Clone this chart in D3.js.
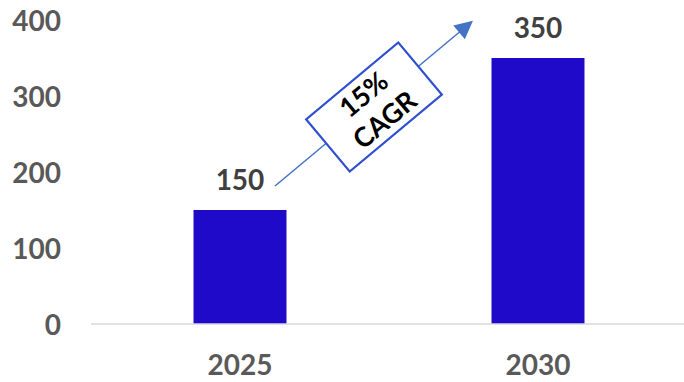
<!DOCTYPE html>
<meta charset="utf-8">
<style>
body { margin: 0; background: #fff; }
.axis text { font-family: Lato, sans-serif; font-weight: bold; font-size: 28px; fill: #595959; }
.label { font-family: Lato, sans-serif; font-weight: bold; font-size: 28px; fill: #404040; }
.cagr { font-family: Lato, sans-serif; font-weight: bold; font-size: 27px; fill: #000; }
</style>
<body>
<script src="https://d3js.org/d3.v7.min.js"></script>
<script>

var years = ["2025", "2030"]
var values = [150, 350]
var yTicks = [0, 100, 200, 300, 400]
var cagrLines = ["15%", "CAGR"]

var width = 684
var height = 382

var svg = d3.select("body").append("svg")
    .attr("width", width)
    .attr("height", height)

var x = d3.scaleBand()
    .domain(years)
    .range([91, 687])
    .paddingInner(0.688)
    .paddingOuter(0.344)

var y = d3.scaleLinear()
    .domain([0, 400])
    .range([324, 20])

// y axis labels only
var yAxis = d3.axisLeft(y).tickValues(yTicks).tickSize(0).tickPadding(0)
svg.append("g")
    .attr("class", "axis")
    .attr("transform", "translate(61,0)")
    .call(yAxis)
    .call(function(g) { g.select(".domain").remove() })
    .selectAll("text").attr("dy", "0.36em")

// bars
svg.selectAll(".bar")
    .data(values)
  .enter().append("rect")
    .attr("class", "bar")
    .attr("x", function(d, i) { return x(years[i]) })
    .attr("width", x.bandwidth())
    .attr("y", function(d) { return y(d) })
    .attr("height", function(d) { return y(0) - y(d) })
    .attr("fill", "#200ACA")

// baseline
svg.append("line")
    .attr("x1", 91).attr("x2", width)
    .attr("y1", y(0)).attr("y2", y(0))
    .attr("stroke", "#d9d9d9")
    .attr("stroke-width", 1.5)

// x axis labels
var xAxis = d3.axisBottom(x).tickSize(0).tickPadding(0)
svg.append("g")
    .attr("class", "axis")
    .attr("transform", "translate(0," + (y(0) + 41) + ")")
    .call(xAxis)
    .call(function(g) { g.select(".domain").remove() })
    .selectAll("text").attr("dy", "0.36em")

// value labels
svg.selectAll(".label")
    .data(values)
  .enter().append("text")
    .attr("class", "label")
    .attr("x", function(d, i) { return x(years[i]) + x.bandwidth() / 2 })
    .attr("y", function(d) { return y(d) - 30 })
    .attr("dy", "0.36em")
    .attr("text-anchor", "middle")
    .text(function(d) { return d })

// growth arrow
svg.append("defs").append("marker")
    .attr("id", "head")
    .attr("viewBox", "0 0 10 10")
    .attr("refX", 9).attr("refY", 5)
    .attr("markerWidth", 20).attr("markerHeight", 18)
    .attr("markerUnits", "userSpaceOnUse")
    .attr("orient", "auto")
  .append("path")
    .attr("d", "M0,0L10,5L0,10z")
    .attr("fill", "#4472C4")

var x0 = x(years[0]) + x.bandwidth() / 2 + 35,
    y0 = y(values[0]) - 24,
    x1 = x(years[1]) - 20,
    y1 = y(values[1]) - 36

svg.append("line")
    .attr("x1", x0).attr("y1", y0)
    .attr("x2", x1).attr("y2", y1)
    .attr("stroke", "#4472C4")
    .attr("stroke-width", 1.5)
    .attr("marker-end", "url(#head)")

// CAGR box
var angle = Math.atan2(y1 - y0, x1 - x0) * 180 / Math.PI
var cx = 374, cy = 107
var box = svg.append("g")
    .attr("transform", "translate(" + cx + "," + cy + ") rotate(" + angle + ")")

box.append("rect")
    .attr("x", -60).attr("y", -34)
    .attr("width", 120).attr("height", 68)
    .attr("fill", "#fff")
    .attr("stroke", "#2E4FD0")
    .attr("stroke-width", 2.2)

box.selectAll("text")
    .data(cagrLines)
  .enter().append("text")
    .attr("class", "cagr")
    .attr("text-anchor", "middle")
    .attr("x", 0)
    .attr("y", function(d, i) { return (i - 0.5) * 33 })
    .attr("dy", "0.36em")
    .text(function(d) { return d })

</script>
